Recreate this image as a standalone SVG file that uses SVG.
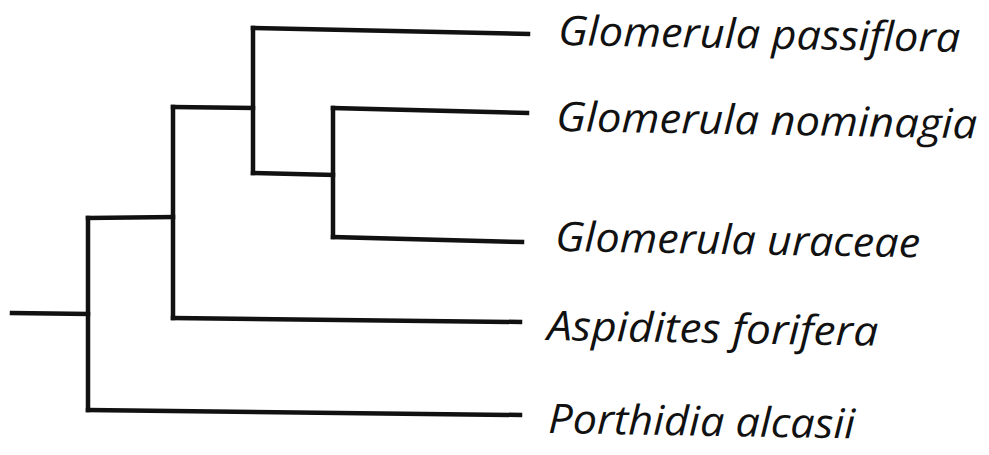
<svg xmlns="http://www.w3.org/2000/svg" width="989" height="455" viewBox="0 0 989 455">
<style>
.br{fill:none;stroke:#111;stroke-width:4.5;stroke-linecap:square;stroke-linejoin:miter}
.lb{font-family:"Open Sans","Liberation Sans",sans-serif;font-style:italic;font-size:41px;fill:#111}
</style>
<rect width="989" height="455" fill="#fff"/>
<g id="connectors">
<path class="br" d="M12,313 L88,314"/>
<path class="br" d="M88,218 L88,410"/>
<path class="br" d="M88,218 L173,217"/>
<path class="br" d="M88,410 L520,415"/>
<path class="br" d="M173,107 L173,318"/>
<path class="br" d="M173,318 L520,322"/>
<path class="br" d="M173,107 L253,108"/>
<path class="br" d="M253,28 L253,173"/>
<path class="br" d="M253,28 L528,34"/>
<path class="br" d="M253,173 L333,175"/>
<path class="br" d="M333,108 L333,237"/>
<path class="br" d="M333,108 L527,113"/>
<path class="br" d="M333,237 L522,242"/>
</g>
<g id="t1"><text class="lb" x="558" y="45" transform="rotate(1 558 45)" textLength="402" lengthAdjust="spacingAndGlyphs">Glomerula passiflora</text></g>
<g id="t2"><text class="lb" x="556" y="131" transform="rotate(1 556 131)" textLength="421" lengthAdjust="spacingAndGlyphs">Glomerula nominagia</text></g>
<g id="t3"><text class="lb" x="555" y="251" transform="rotate(1 555 251)" textLength="365" lengthAdjust="spacingAndGlyphs">Glomerula uraceae</text></g>
<g id="t4"><text class="lb" x="547" y="340" transform="rotate(1 547 340)" textLength="331" lengthAdjust="spacingAndGlyphs">Aspidites forifera</text></g>
<g id="t5"><text class="lb" x="548" y="433" transform="rotate(1 548 433)" textLength="307" lengthAdjust="spacingAndGlyphs">Porthidia alcasii</text></g>
</svg>
